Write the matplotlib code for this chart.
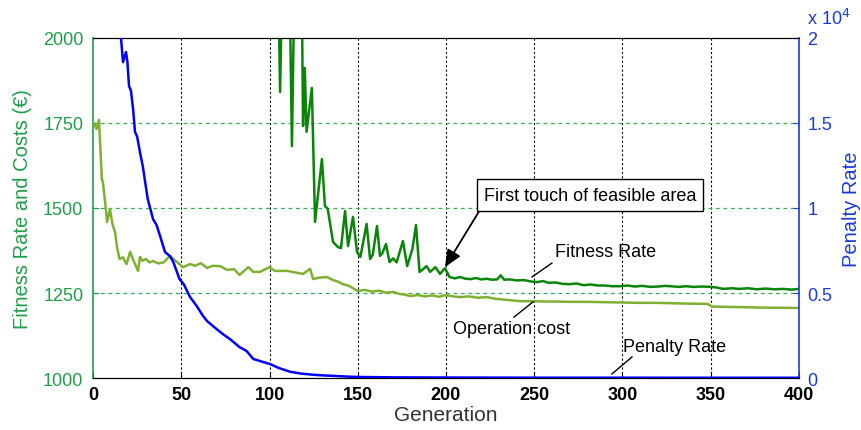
import matplotlib
matplotlib.use('Agg')
import matplotlib.pyplot as plt
from matplotlib.ticker import FuncFormatter

plt.rcParams['font.family'] = ['Liberation Sans', 'DejaVu Sans']

# best fitness per generation (values above 2000 run off the top of the plot)
fit_gen = [100, 104.5, 106, 107.6, 111, 112.7, 114.5, 118, 119, 120, 121, 124, 125.8, 129.7,
           131.4, 133, 136, 138.8, 140.5, 142.8, 144.5, 147.3, 149.6, 151.5, 155, 157, 158.5,
           160.9, 162.6, 164, 166, 168, 170, 172, 175.6, 178, 181, 183, 185, 187, 189, 191,
           194, 196.6, 199.4, 202, 205, 208, 211, 214, 217, 220, 223, 226, 229, 231, 233, 236,
           240, 244, 248, 251.5, 255, 258, 262, 266, 270, 274, 278, 282, 286, 290, 294, 298.6,
           303, 307, 311, 316, 320, 324, 327, 332, 336, 340, 345, 350, 353.5, 357, 362, 366,
           371, 376, 381, 386, 391, 396, 400]
fit_val = [2400, 2300, 1841, 2300, 2300, 1682, 2300, 2300, 1741, 1912, 1724, 1853, 1459, 1644,
           1506, 1497, 1400, 1385, 1382, 1491, 1388, 1474, 1370, 1356, 1453, 1350, 1362,
           1447, 1359, 1368, 1394, 1341, 1352, 1340, 1403, 1329, 1380, 1450, 1312, 1320, 1329,
           1312, 1326, 1306, 1323, 1297, 1293, 1297, 1292, 1291, 1294, 1290, 1292, 1289, 1290,
           1302, 1289, 1290, 1287, 1288, 1284, 1282, 1285, 1280, 1281, 1277, 1276, 1278, 1273,
           1275, 1272, 1272, 1270, 1270, 1272, 1269, 1271, 1268, 1269, 1271, 1270, 1268, 1270,
           1268, 1269, 1268, 1266, 1262, 1264, 1262, 1264, 1261, 1263, 1261, 1262, 1260, 1262]

# operation cost
op_gen = [0, 1, 2, 3.4, 5, 5.6, 7, 8, 9.6, 11, 12.5, 13.6, 15, 17, 18, 19, 21, 23, 25.5, 26.6,
          28, 30, 32, 34, 37, 40, 43.6, 47.6, 51, 55, 58, 61, 64.6, 68, 72, 76, 80, 83, 88,
          90.8, 94.6, 100, 103, 110, 119, 123, 124.7, 128, 132.6, 136, 139, 141.6, 145, 148,
          150, 154, 158, 162, 166, 170, 174, 177, 179.6, 184, 188, 192, 196, 200, 204, 208,
          213, 218, 223, 228, 234, 238, 242, 248, 255, 262, 270, 280, 290, 300, 310, 320, 335,
          348, 351, 362, 380, 400]
op_val = [1753, 1745, 1732, 1759, 1585, 1576, 1510, 1459, 1497, 1453, 1429, 1385, 1350, 1355,
          1345, 1335, 1371, 1345, 1315, 1356, 1345, 1350, 1340, 1344, 1337, 1340, 1359, 1341,
          1326, 1335, 1330, 1338, 1324, 1330, 1329, 1318, 1320, 1303, 1326, 1312, 1312, 1326,
          1315, 1315, 1306, 1321, 1291, 1295, 1297, 1288, 1283, 1276, 1271, 1262, 1256, 1259,
          1254, 1257, 1251, 1253, 1247, 1245, 1241, 1244, 1240, 1243, 1239, 1244, 1240, 1238,
          1240, 1236, 1238, 1233, 1230, 1228, 1226, 1226, 1225, 1225, 1224, 1224, 1223, 1222,
          1221, 1221, 1219, 1218, 1210, 1209, 1207, 1206]

# penalty rate (right axis)
pen_gen = [14, 15.9, 17, 18.7, 19.5, 20.4, 21.5, 22.7, 23.8, 25, 26.6, 28.3, 29.5, 31, 34, 36,
           38, 40.8, 43.6, 45.5, 49, 51.5, 55, 58.8, 62, 64.6, 70, 74, 77.6, 83, 87, 90.8,
           94.6, 100.3, 105, 111.6, 118, 124.6, 131, 138, 145, 151, 170, 200, 250, 300, 350, 400]
pen_val = [22000, 19930, 18580, 19170, 18580, 17170, 16900, 15820, 14470, 14200, 13290, 12400,
           11550, 10530, 9350, 9000, 8350, 7410, 7170, 6820, 5820, 5500, 4760, 4230, 3700, 3350,
           2880, 2550, 2290, 1820, 1590, 1120, 1000, 823, 600, 370, 260, 194, 150, 118, 80, 60,
           40, 30, 20, 20, 15, 15]

x_ticks = [0, 50, 100, 150, 200, 250, 300, 350, 400]
left_ticks = [1000, 1250, 1500, 1750, 2000]
right_ticks = [0, 5000, 10000, 15000, 20000]

green_ax = '#1f9e48'
blue_ax = '#1b3bd6'

fig = plt.figure(figsize=(8.62, 4.31), dpi=100)
ax = fig.add_axes([0.1079, 0.1206, 0.819, 0.789])

ax.plot(op_gen, op_val, color='#7fb034', lw=1.8, zorder=3)
ax.plot(fit_gen, fit_val, color='#0a850a', lw=1.8, zorder=4)

ax.set_xlim(0, 400)
ax.set_ylim(1000, 2000)
ax.set_xticks(x_ticks)
ax.set_yticks(left_ticks)
ax.set_xticklabels([str(t) for t in x_ticks], fontweight='bold', fontsize=13)
ax.tick_params(axis='x', direction='in', length=4, colors='black', pad=6)
ax.tick_params(axis='y', direction='in', length=4, colors=green_ax, labelsize=13, pad=7)

for t in x_ticks[1:-1]:
    ax.axvline(t, color='black', lw=0.8, ls=(0, (2, 2)), zorder=1)
for t in left_ticks[1:-1]:
    ax.axhline(t, color='#2fae55', lw=0.9, ls=(0, (3, 3)), zorder=1)

ax.spines['left'].set_color(green_ax)
ax.spines['left'].set_linewidth(1.2)
ax.spines['right'].set_visible(False)
ax.set_xlabel('Generation', fontsize=15, color='#333333', labelpad=1)
ax.set_ylabel('Fitness Rate and Costs (€)', fontsize=14.5, color=green_ax, labelpad=8)

ax2 = ax.twinx()
ax2.plot(pen_gen, pen_val, color='#0000ff', lw=1.8, zorder=5)
ax2.set_ylim(0, 20000)
ax2.set_yticks(right_ticks)
ax2.yaxis.set_major_formatter(FuncFormatter(lambda v, p: '{:g}'.format(v / 1e4)))
ax2.tick_params(axis='y', direction='in', length=4, colors=blue_ax, labelsize=13, pad=6)
ax2.spines['right'].set_color(blue_ax)
ax2.spines['right'].set_linewidth(1.2)
ax2.spines['left'].set_visible(False)
ax2.set_ylabel('Penalty Rate', fontsize=14.5, color=blue_ax, labelpad=7)
ax2.text(1.012, 1.03, r'x 10$^4$', transform=ax2.transAxes, color=blue_ax,
         fontsize=13, ha='left', va='bottom')

ax.annotate('First touch of feasible area', xy=(199.4, 1326), xytext=(281.6, 1538),
            fontsize=13, ha='center', va='center', zorder=6,
            bbox=dict(boxstyle='square,pad=0.4', fc='white', ec='black', lw=1),
            arrowprops=dict(arrowstyle='-|>,head_length=0.8,head_width=0.35', color='black',
                            lw=1.3, shrinkA=0, shrinkB=0, relpos=(0.0, 0.0)))

ax.text(290.6, 1373, 'Fitness Rate', fontsize=13, ha='center', va='center', zorder=6)
ax.plot([248.7, 260], [1297, 1338], color='black', lw=1, zorder=6)
ax.text(237, 1147, 'Operation cost', fontsize=13, ha='center', va='center', zorder=6)
ax.plot([238.5, 249.3], [1179, 1224], color='black', lw=1, zorder=6)
ax.text(329.7, 1094, 'Penalty Rate', fontsize=13, ha='center', va='center', zorder=6)
ax.plot([294, 305.4], [1012, 1062], color='black', lw=1, zorder=6)

fig.savefig('out.png', dpi=100)
